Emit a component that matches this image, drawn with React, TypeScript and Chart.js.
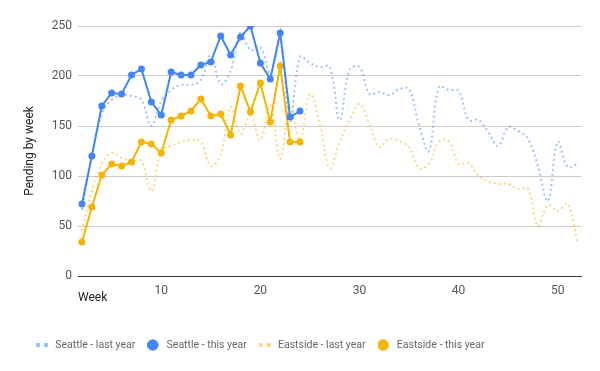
import React, { useEffect, useRef } from 'react';
import { Chart, registerables } from 'chart.js';

Chart.register(...registerables);

// ---- data ----
const weeksLastYear = [2, 3, 4, 5, 6, 7, 8, 9, 10, 11, 12, 13, 14, 15, 16, 17, 18, 19, 20, 21, 22, 23, 24, 25, 26, 27, 28, 29, 30, 31, 32, 33, 34, 35, 36, 37, 38, 39, 40, 41, 42, 43, 44, 45, 46, 47, 48, 49, 50, 51, 52];
const weeksThisYear = [2, 3, 4, 5, 6, 7, 8, 9, 10, 11, 12, 13, 14, 15, 16, 17, 18, 19, 20, 21, 22, 23, 24];

const seattleLastYear = [66, 122, 162, 176, 181, 180, 176, 150, 175, 186, 191, 191, 196, 221, 192, 205, 244, 226, 229, 203, 238, 155, 219, 213, 209, 209, 156, 206, 209, 182, 184, 181, 187, 187, 151, 125, 189, 186, 185, 156, 156, 144, 130, 149, 145, 137, 110, 75, 134, 109, 112];
const seattleThisYear = [72, 120, 170, 183, 182, 201, 207, 174, 161, 204, 201, 201, 211, 214, 240, 221, 239, 250, 213, 197, 243, 159, 165];
const eastsideLastYear = [45, 85, 112, 123, 118, 115, 115, 85, 125, 130, 134, 136, 134, 110, 122, 169, 142, 160, 136, 171, 117, 169, 136, 182, 152, 108, 134, 156, 172, 152, 129, 137, 135, 129, 108, 112, 134, 135, 112, 113, 100, 95, 92, 92, 87, 87, 50, 71, 65, 72, 33];
const eastsideThisYear = [34, 69, 101, 112, 110, 114, 134, 132, 123, 156, 160, 165, 177, 160, 162, 141, 190, 164, 193, 154, 210, 134, 134];

const seriesLabels = ['Seattle - last year', 'Seattle - this year', 'Eastside - last year', 'Eastside - this year'];
const xTickValues = [10, 20, 30, 40, 50];
const yTickValues = [0, 50, 100, 150, 200, 250];
const xAxisTitle = 'Week';
const yAxisTitle = 'Pending by week';

// ---- styles ----
const BLUE = '#4285F4';
const BLUE_LIGHT = 'rgba(66,133,244,0.5)';
const YELLOW = '#F4B400';
const YELLOW_LIGHT = 'rgba(244,180,0,0.5)';
const FONT = 'Roboto';
const LEGEND_FONT_SIZE = 10.5;
const LEGEND_PAD = 12;
const ICON_W = 14;

const toPoints = (xs: number[], ys: number[]) => xs.map((x, i) => ({ x, y: ys[i] }));

function makeCircleIcon(color: string) {
  const c = document.createElement('canvas');
  c.width = ICON_W;
  c.height = 12;
  const g = c.getContext('2d')!;
  g.fillStyle = color;
  g.beginPath();
  g.arc(5.5, 6, 5.7, 0, Math.PI * 2);
  g.fill();
  return c;
}

function makeDotsIcon(color: string) {
  const c = document.createElement('canvas');
  c.width = ICON_W;
  c.height = 4;
  const g = c.getContext('2d')!;
  g.fillStyle = color;
  g.fillRect(0, 0, 4, 4);
  g.fillRect(8, 0, 4, 4);
  return c;
}

const legendPlacer = {
  id: 'legendPlacer',
  afterLayout(chart: any) {
    const lg = chart.legend;
    if (!lg) return;
    lg.left = 36 - LEGEND_PAD;
    lg.right = 600;
    lg.top = 345 - LEGEND_PAD - LEGEND_FONT_SIZE / 2;
    lg.bottom = 371;
    lg.width = lg.right - lg.left;
    lg.height = lg.bottom - lg.top;
  },
};

export default function App() {
  const canvasRef = useRef<HTMLCanvasElement | null>(null);

  useEffect(() => {
    if (!canvasRef.current) return;
    const lastYearStyle = {
      borderWidth: 2,
      borderDash: [2, 3],
      pointRadius: 0,
      pointHoverRadius: 0,
      tension: 0.4,
      fill: false,
      order: 1,
    };
    const thisYearStyle = {
      borderWidth: 2,
      pointRadius: 3.5,
      pointBorderWidth: 0,
      tension: 0,
      fill: false,
      order: 0,
    };
    const icons = [makeDotsIcon(BLUE_LIGHT), makeCircleIcon(BLUE), makeDotsIcon(YELLOW_LIGHT), makeCircleIcon(YELLOW)];
    const chart = new Chart(canvasRef.current, {
      type: 'line',
      data: {
        datasets: [
          { label: seriesLabels[0], data: toPoints(weeksLastYear, seattleLastYear), borderColor: BLUE_LIGHT, backgroundColor: BLUE_LIGHT, ...lastYearStyle } as any,
          { label: seriesLabels[1], data: toPoints(weeksThisYear, seattleThisYear), borderColor: BLUE, backgroundColor: BLUE, pointBackgroundColor: BLUE, ...thisYearStyle } as any,
          { label: seriesLabels[2], data: toPoints(weeksLastYear, eastsideLastYear), borderColor: YELLOW_LIGHT, backgroundColor: YELLOW_LIGHT, ...lastYearStyle } as any,
          { label: seriesLabels[3], data: toPoints(weeksThisYear, eastsideThisYear), borderColor: YELLOW, backgroundColor: YELLOW, pointBackgroundColor: YELLOW, ...thisYearStyle } as any,
        ],
      },
      options: {
        animation: false,
        responsive: true,
        maintainAspectRatio: false,
        layout: { padding: { top: 26, left: 0, right: 18.5, bottom: 32.5 } },
        plugins: {
          tooltip: { enabled: false },
          legend: {
            position: 'bottom',
            align: 'start',
            labels: {
              usePointStyle: true,
              pointStyleWidth: ICON_W,
              boxHeight: 8.5,
              padding: LEGEND_PAD,
              color: '#666',
              font: { family: FONT, size: LEGEND_FONT_SIZE },
              generateLabels: (ch: any) =>
                ch.data.datasets.map((ds: any, i: number) => ({
                  text: ds.label,
                  fillStyle: ds.borderColor,
                  strokeStyle: ds.borderColor,
                  lineWidth: 0,
                  pointStyle: icons[i],
                  hidden: false,
                  datasetIndex: i,
                  fontColor: '#666',
                })),
            },
          },
        },
        scales: {
          x: {
            type: 'linear',
            min: 1.6,
            max: 52.4,
            afterBuildTicks: (scale: any) => {
              scale.ticks = xTickValues.map((v) => ({ value: v }));
            },
            afterFit: (scale: any) => {
              scale.height = 30;
            },
            ticks: {
              autoSkip: false,
              maxRotation: 0,
              padding: 8,
              color: '#555',
              font: { family: FONT, size: 12 },
            },
            grid: { display: false, drawTicks: false },
            border: { display: true, color: '#333', width: 1 },
            title: {
              display: true,
              text: xAxisTitle,
              align: 'start',
              color: '#222',
              font: { family: FONT, size: 12 },
              padding: { top: 0, bottom: 1 },
            },
          },
          y: {
            min: 0,
            max: 250,
            afterBuildTicks: (scale: any) => {
              scale.ticks = yTickValues.map((v) => ({ value: v }));
            },
            afterFit: (scale: any) => {
              scale.width = 78;
            },
            ticks: {
              padding: 6,
              color: '#555',
              font: { family: FONT, size: 12 },
            },
            grid: {
              drawTicks: false,
              color: (ctx: any) => (ctx.tick && ctx.tick.value === 0 ? '#333' : '#ccc'),
            },
            border: { display: false },
            title: {
              display: true,
              text: yAxisTitle,
              color: '#222',
              font: { family: FONT, size: 12 },
              padding: { top: 23, bottom: 0 },
            },
          },
        },
      } as any,
      plugins: [legendPlacer],
    });
    return () => chart.destroy();
  }, []);

  return (
    <div style={{ position: 'absolute', left: 0, top: 0, width: 600, height: 371, background: '#fff' }}>
      <canvas ref={canvasRef} />
    </div>
  );
}
